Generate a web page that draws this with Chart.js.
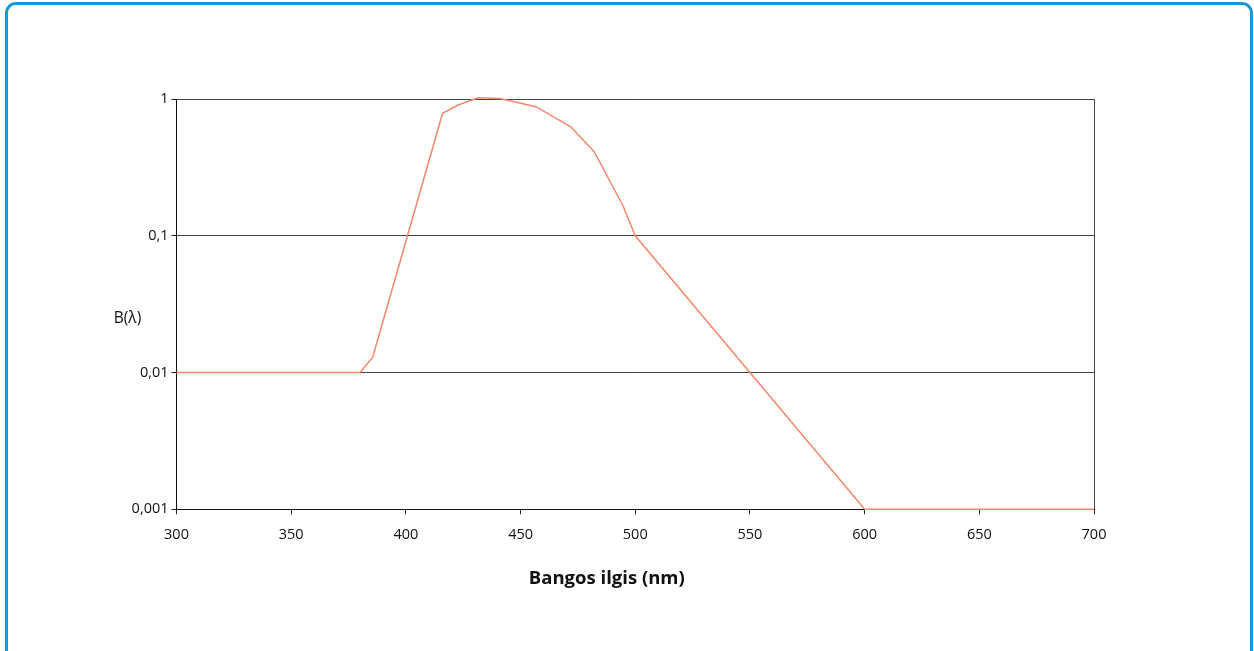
<!DOCTYPE html>
<html>
<head>
<meta charset="utf-8">
<script src="https://cdn.jsdelivr.net/npm/chart.js@4/dist/chart.umd.min.js"></script>
<style>
  html, body { margin: 0; padding: 0; background: #fff; }
  body { width: 1254px; height: 651px; overflow: hidden; position: relative; }
  #frame { position: absolute; left: 5px; top: 2px; width: 1248px; height: 700px;
           border: 3px solid #1a98d4; border-radius: 11px; box-sizing: border-box; }
  #wrap { position: absolute; left: 0; top: 0; width: 1254px; height: 651px; }
</style>
</head>
<body>
<div id="frame"></div>
<div id="wrap"><canvas id="c" width="1254" height="651"></canvas></div>
<script>
// Data
const wavelengths = [300, 380, 385.5, 400.7, 416, 422.8, 431.5, 441, 456.7, 471.9, 482.1, 494.7, 500, 550, 600, 700];
const bValues     = [0.01, 0.01, 0.0129, 0.1, 0.786, 0.904, 1.02, 1.01, 0.879, 0.627, 0.412, 0.165, 0.1, 0.01, 0.001, 0.001];
const yTickValues = [0.001, 0.01, 0.1, 1];
const yTickLabels = ['0,001', '0,01', '0,1', '1'];
const xTickValues = [300, 350, 400, 450, 500, 550, 600, 650, 700];
const xTitle = 'Bangos ilgis (nm)';
const yTitle = 'B(\u03bb)';

const FONT = '"Open Sans", "DejaVu Sans", sans-serif';

const labelsPlugin = {
  id: 'labelsPlugin',
  afterDraw(chart) {
    const { ctx, chartArea } = chart;
    ctx.save();
    ctx.fillStyle = '#111';
    ctx.font = '15.5px ' + FONT;
    ctx.textAlign = 'center';
    ctx.textBaseline = 'middle';
    const yMid = chart.scales.y.getPixelForValue(0.01) - 54;
    ctx.fillText(yTitle, chartArea.left - 49, yMid);
    ctx.font = 'bold 18.5px ' + FONT;
    ctx.fillText(xTitle, chartArea.left + (chartArea.right - chartArea.left) * 0.469, chartArea.bottom + 69);
    ctx.restore();
  }
};

new Chart(document.getElementById('c'), {
  type: 'line',
  data: {
    datasets: [{
      data: wavelengths.map((w, i) => ({ x: w, y: bValues[i] })),
      borderColor: '#f4886c',
      borderWidth: 1.5,
      pointRadius: 0,
      tension: 0,
      fill: false,
      clip: false
    }]
  },
  options: {
    responsive: false,
    animation: false,
    layout: { padding: { left: 100, top: 99, right: 160, bottom: 100 } },
    plugins: { legend: { display: false }, tooltip: { enabled: false } },
    scales: {
      x: {
        type: 'linear',
        min: 300, max: 700,
        afterFit: s => { s.height = 41.7; },
        afterBuildTicks: s => { s.ticks = xTickValues.map(v => ({ value: v })); },
        ticks: { color: '#111', font: { size: 14.5, family: FONT }, padding: 12, maxRotation: 0 },
        grid: {
          drawOnChartArea: true,
          color: c => (c.tick && c.tick.value === 700) ? '#444' : 'rgba(0,0,0,0)',
          tickColor: '#222',
          tickLength: 5,
          lineWidth: 1
        },
        border: { color: '#111', width: 1 }
      },
      y: {
        type: 'logarithmic',
        min: 0.001, max: 1,
        afterFit: s => { s.width = 76.5; },
        afterBuildTicks: s => { s.ticks = yTickValues.map(v => ({ value: v })); },
        ticks: {
          color: '#111', font: { size: 14.5, family: FONT }, padding: 3,
          callback: (v) => yTickLabels[yTickValues.indexOf(v)]
        },
        grid: {
          color: c => (c.tick && c.tick.value === 0.001) ? 'rgba(0,0,0,0)' : '#444',
          tickColor: '#222',
          tickLength: 5,
          lineWidth: 1
        },
        border: { color: '#111', width: 1 }
      }
    }
  },
  plugins: [labelsPlugin]
});
</script>
</body>
</html>
